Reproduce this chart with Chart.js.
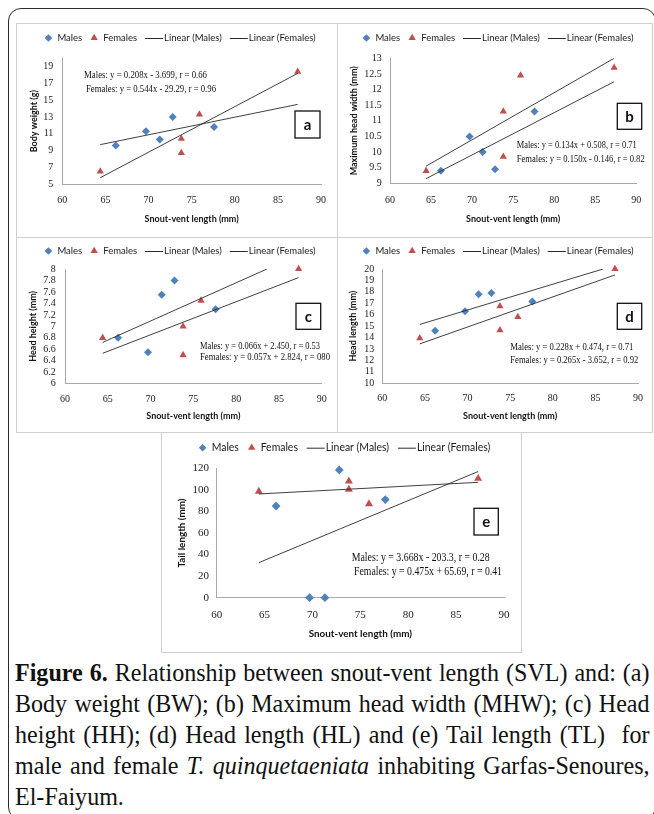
<!DOCTYPE html>
<html>
<head>
<meta charset="utf-8">
<script src="https://cdn.jsdelivr.net/npm/chart.js@4.4.1/dist/chart.umd.min.js"></script>
<style>
html, body { margin: 0; padding: 0; background: #fff; }
body { width: 654px; height: 814px; position: relative; overflow: hidden; }
#frame { position: absolute; left: 8px; top: 8px; width: 648px; height: 812px; border: 1.4px solid #2b2b2b; border-radius: 13px; box-sizing: border-box; }
.panel { position: absolute; border: 1px solid #cfcfcf; box-sizing: border-box; background: #fff; }
canvas.chart { position: absolute; }
#caption { position: absolute; left: 15px; top: 657px; width: 686px; transform: scaleX(0.925); transform-origin: 0 0;
           font-family: 'Liberation Serif', 'Times New Roman', serif; font-size: 26px; line-height: 31px; color: #111; }
#caption div { text-align: justify; text-align-last: justify; white-space: nowrap; }
#caption div.last { text-align-last: left; }
</style>
</head>
<body>
<div id="frame"></div>
<div id="panels"></div>
<div id="caption">
  <div><b>Figure 6.</b> Relationship between snout-vent length (SVL) and: (a)</div>
  <div>Body weight (BW); (b) Maximum head width (MHW); (c) Head</div>
  <div>height (HH); (d) Head length (HL) and (e) Tail length (TL)&nbsp; for</div>
  <div>male and female <i>T. quinquetaeniata</i> inhabiting Garfas-Senoures,</div>
  <div class="last">El-Faiyum.</div>
</div>
<script>
// snout-vent length of the animals (mm)
const svlMales = [66.2, 69.7, 71.3, 72.8, 77.6];
const svlFemales = [64.4, 73.8, 73.8, 75.9, 87.3];

// (a) body weight (g)
const bwMales = [9.6, 11.3, 10.3, 13.0, 11.8];
const bwFemales = [6.5, 10.4, 8.7, 13.3, 18.4];
// (b) maximum head width (mm)
const mhwMales = [9.4, 10.5, 10.0, 9.45, 11.3];
const mhwFemales = [9.4, 11.3, 9.85, 12.45, 12.7];
// (c) head height (mm)
const hhMales = [6.8, 6.55, 7.55, 7.8, 7.3];
const hhFemales = [6.8, 7.0, 6.5, 7.45, 8.0];
// (d) head length (mm)
const hlMales = [14.6, 16.3, 17.8, 17.9, 17.15];
const hlFemales = [13.95, 16.75, 14.65, 15.8, 20.0];
// (e) tail length (mm)
const tlMales = [85, 0, 0, 118.5, 91];
const tlFemales = [98.5, 108, 100.5, 87, 110.5];

// trend line end points as drawn in the picture: [x0, x1], [y0, y1]
const bwTrendMales = [[64.4, 87.3], [9.7, 14.5]];
const bwTrendFemales = [[64.4, 87.3], [5.75, 18.2]];
const mhwTrendMales = [[64.4, 87.3], [9.15, 12.25]];
const mhwTrendFemales = [[64.4, 87.3], [9.55, 13.0]];
const hhTrendMales = [[64.4, 83.6], [6.72, 8.0]];
const hhTrendFemales = [[64.4, 87.3], [6.53, 7.85]];
const hlTrendMales = [[64.4, 85.9], [15.15, 20.0]];
const hlTrendFemales = [[64.4, 87.3], [13.45, 19.48]];
const tlTrendMales = [[64.4, 87.3], [32.5, 117]];
const tlTrendFemales = [[64.4, 87.3], [96.2, 107]];

// ticks
const xTicks = [60, 65, 70, 75, 80, 85, 90];
const bwTicks = [5, 7, 9, 11, 13, 15, 17, 19];
const mhwTicks = [9, 9.5, 10, 10.5, 11, 11.5, 12, 12.5, 13];
const hhTicks = [6, 6.2, 6.4, 6.6, 6.8, 7, 7.2, 7.4, 7.6, 7.8, 8];
const hlTicks = [10, 11, 12, 13, 14, 15, 16, 17, 18, 19, 20];
const tlTicks = [0, 20, 40, 60, 80, 100, 120];

// regression equations printed on each panel
const eqBW = ['Males: y = 0.208x - 3.699, r = 0.66', 'Females: y = 0.544x - 29.29, r = 0.96'];
const eqMHW = ['Males: y = 0.134x + 0.508, r = 0.71', 'Females: y = 0.150x - 0.146, r = 0.82'];
const eqHH = ['Males: y = 0.066x + 2.450, r = 0.53', 'Females: y = 0.057x + 2.824, r = 080'];
const eqHL = ['Males: y = 0.228x + 0.474, r = 0.71', 'Females: y = 0.265x - 3.652, r = 0.92'];
const eqTL = ['Males: y = 3.668x - 203.3, r = 0.28', 'Females: y = 0.475x + 65.69, r = 0.41'];

const xTitle = 'Snout-vent length (mm)';

const panels = [
  { letter: 'a', pos: [16, 23, 321, 214], area: { l: 46.3, r: 305, t: 35.3, b: 161 },
    yRange: [5, 20], yTicks: bwTicks, yTitle: 'Body weight (g)',
    males: bwMales, females: bwFemales, trendM: bwTrendMales, trendF: bwTrendFemales,
    eq: eqBW, eqPos: [[68, 52], [70, 66]], eqW: [123, 130], box: [279, 88, 25, 27],
    yTitlePad: 12.6, xTitlePad: 12.6, xTickPad: 10, yTickPad: 9, legendY: 15, scale: 1 },
  { letter: 'b', pos: [337, 23, 315, 214], area: { l: 53, r: 301.3, t: 35.3, b: 160.3 },
    yRange: [9, 13], yTicks: mhwTicks, yTitle: 'Maximum head width (mm)',
    males: mhwMales, females: mhwFemales, trendM: mhwTrendMales, trendF: mhwTrendFemales,
    eq: eqMHW, eqPos: [[179.7, 122.7], [179.7, 136.3]], eqW: [120, 128], box: [280.3, 80.3, 24.4, 26],
    yTitlePad: 11.9, xTitlePad: 12.6, xTickPad: 10.7, yTickPad: 8.3, legendY: 15, scale: 1 },
  { letter: 'c', pos: [16, 237, 321, 195], area: { l: 49, r: 305.7, t: 32, b: 146.7 },
    yRange: [6, 8], yTicks: hhTicks, yTitle: 'Head height (mm)',
    males: hhMales, females: hhFemales, trendM: hhTrendMales, trendF: hhTrendFemales,
    eq: eqHH, eqPos: [[184, 109.7], [184, 120.7]], eqW: [120, 130], box: [280, 66.3, 24.7, 26],
    yTitlePad: 11.9, xTitlePad: 10.6, xTickPad: 9.3, yTickPad: 9.3, legendY: 14, scale: 1 },
  { letter: 'd', pos: [337, 237, 315, 195], area: { l: 45.3, r: 301.3, t: 32, b: 146.3 },
    yRange: [10, 20], yTicks: hlTicks, yTitle: 'Head length (mm)',
    males: hlMales, females: hlFemales, trendM: hlTrendMales, trendF: hlTrendFemales,
    eq: eqHL, eqPos: [[173.3, 110.7], [173.3, 123]], eqW: [123, 128], box: [280.3, 66.3, 24.4, 26],
    yTitlePad: 10.9, xTitlePad: 10.6, xTickPad: 9, yTickPad: 8, legendY: 14, scale: 1 },
  { letter: 'e', pos: [161, 432, 360, 220], area: { l: 55.7, r: 343, t: 36.3, b: 165.7 },
    yRange: [0, 120], yTicks: tlTicks, yTitle: 'Tail length (mm)',
    males: tlMales, females: tlFemales, trendM: tlTrendMales, trendF: tlTrendFemales,
    eq: eqTL, eqPos: [[190.7, 125.7], [193, 139.7]], eqW: [138, 148], box: [313, 76.3, 24.3, 26.7],
    yTitlePad: 15.3, xTitlePad: 12.3, xTickPad: 10.7, yTickPad: 7.7, legendY: 15.7, scale: 1.1 }
];

const blue = '#4F81BD';
const red = '#C0504D';
const trendColor = '#2a2a2a';

// legend, equations and the boxed panel letter
const decor = {
  id: 'decor',
  afterDraw(chart, args, o) {
    const ctx = chart.ctx;
    ctx.save();
    ctx.font = o.legendFont;
    ctx.textBaseline = 'middle';
    ctx.textAlign = 'left';
    const items = chart.data.datasets.map(ds => ({
      text: ds.label,
      kind: ds.showLine ? 'line' : ds.pointStyle,
      color: ds.showLine ? ds.borderColor : ds.backgroundColor
    }));
    const symW = k => k === 'line' ? 18 : 8;
    const symGap = k => k === 'line' ? 1 : 5;
    let total = 0;
    items.forEach((it, i) => {
      it.w = symW(it.kind) + symGap(it.kind) + ctx.measureText(it.text).width;
      total += it.w + (i ? o.itemGap : 0);
    });
    let x = chart.width / 2 + o.shift - total / 2;
    const y = o.legendY;
    items.forEach(it => {
      ctx.fillStyle = it.color;
      ctx.strokeStyle = it.color;
      const cx = x + symW(it.kind) / 2;
      ctx.beginPath();
      if (it.kind === 'rectRot') {
        const r = 3.8;
        ctx.moveTo(cx - r, y); ctx.lineTo(cx, y - r); ctx.lineTo(cx + r, y); ctx.lineTo(cx, y + r);
        ctx.closePath(); ctx.fill();
      } else if (it.kind === 'triangle') {
        const r = 4.2;
        ctx.moveTo(cx, y - r);
        ctx.lineTo(cx + r * Math.sin(2 * Math.PI / 3), y - r * Math.cos(2 * Math.PI / 3));
        ctx.lineTo(cx + r * Math.sin(4 * Math.PI / 3), y - r * Math.cos(4 * Math.PI / 3));
        ctx.closePath(); ctx.fill();
      } else {
        ctx.lineWidth = 1;
        ctx.moveTo(x, y + 0.5); ctx.lineTo(x + 18, y + 0.5); ctx.stroke();
      }
      ctx.fillStyle = '#1a1a1a';
      ctx.fillText(it.text, x + symW(it.kind) + symGap(it.kind), y);
      x += it.w + o.itemGap;
    });

    ctx.font = o.eqFont;
    ctx.fillStyle = '#111';
    o.eq.forEach((t, i) => ctx.fillText(t, o.eqPos[i][0], o.eqPos[i][1], o.eqW[i]));

    const [bx, by, bw, bh] = o.box;
    ctx.fillStyle = '#fff';
    ctx.fillRect(bx, by, bw, bh);
    ctx.strokeStyle = '#111';
    ctx.lineWidth = 1.3;
    ctx.strokeRect(bx, by, bw, bh);
    ctx.fillStyle = '#111';
    ctx.font = 'bold 15px Lato';
    ctx.textAlign = 'center';
    ctx.fillText(o.letter, bx + bw / 2, by + bh / 2 + 0.5);
    ctx.restore();
  }
};

const holder = document.getElementById('panels');

panels.forEach(p => {
  const [left, top, w, h] = p.pos;
  const border = document.createElement('div');
  border.className = 'panel';
  border.style.cssText = `left:${left}px;top:${top}px;width:${w + 1}px;height:${h + 1}px;`;
  holder.appendChild(border);
  const canvas = document.createElement('canvas');
  canvas.className = 'chart';
  canvas.width = w;
  canvas.height = h;
  canvas.style.cssText = `left:${left}px;top:${top}px;width:${w}px;height:${h}px;`;
  holder.appendChild(canvas);

  const s = p.scale;
  const tickFont = { family: 'Liberation Serif', size: 10 * s };
  const titleFont = { family: 'Lato', weight: 'bold', size: 9 * s };
  const trend = (t) => t[0].map((x, i) => ({ x: x, y: t[1][i] }));

  new Chart(canvas, {
    type: 'scatter',
    data: {
      datasets: [
        { label: 'Males', data: svlMales.map((x, i) => ({ x: x, y: p.males[i] })),
          pointStyle: 'rectRot', pointRadius: 4 * s, backgroundColor: blue, borderColor: blue, borderWidth: 0,
          clip: false, order: 1 },
        { label: 'Females', data: svlFemales.map((x, i) => ({ x: x, y: p.females[i] })),
          pointStyle: 'triangle', pointRadius: 4.2 * s, backgroundColor: red, borderColor: red, borderWidth: 0,
          clip: false, order: 1 },
        { label: 'Linear (Males)', data: trend(p.trendM), showLine: true, pointRadius: 0,
          borderColor: trendColor, borderWidth: 0.9, order: 0 },
        { label: 'Linear (Females)', data: trend(p.trendF), showLine: true, pointRadius: 0,
          borderColor: trendColor, borderWidth: 0.9, order: 0 }
      ]
    },
    options: {
      responsive: false,
      animation: false,
      events: [],
      layout: { padding: { left: 0, top: p.area.t, right: w - p.area.r, bottom: 0 } },
      scales: {
        x: {
          type: 'linear', min: 60, max: 90,
          afterBuildTicks: axis => { axis.ticks = xTicks.map(v => ({ value: v })); },
          afterFit: scale => { scale.height = h - p.area.b; },
          grid: { display: false, drawTicks: false },
          border: { display: true, color: '#a8a8a8', width: 1 },
          ticks: { font: tickFont, color: '#222', padding: p.xTickPad, maxRotation: 0, autoSkip: false,
                   callback: v => String(v) },
          title: { display: true, text: xTitle, font: titleFont, color: '#111',
                   padding: { top: 0, bottom: p.xTitlePad } }
        },
        y: {
          type: 'linear', min: p.yRange[0], max: p.yRange[1],
          afterBuildTicks: axis => { axis.ticks = p.yTicks.map(v => ({ value: v })); },
          afterFit: scale => { scale.width = p.area.l; },
          grid: { display: false, drawTicks: false },
          border: { display: true, color: '#a8a8a8', width: 1 },
          ticks: { font: tickFont, color: '#222', padding: p.yTickPad, autoSkip: false,
                   callback: v => String(v) },
          title: { display: true, text: p.yTitle, font: titleFont, color: '#111',
                   padding: { top: p.yTitlePad, bottom: 0 } }
        }
      },
      plugins: {
        legend: { display: false },
        tooltip: { enabled: false },
        decor: {
          legendFont: (9.5 * s) + 'px Lato', itemGap: 8 * s, shift: 3.5, legendY: p.legendY,
          eqFont: (10.5 * s) + 'px "Liberation Serif"', eq: p.eq, eqPos: p.eqPos, eqW: p.eqW,
          box: p.box, letter: p.letter
        }
      }
    },
    plugins: [decor]
  });
});
</script>
</body>
</html>
